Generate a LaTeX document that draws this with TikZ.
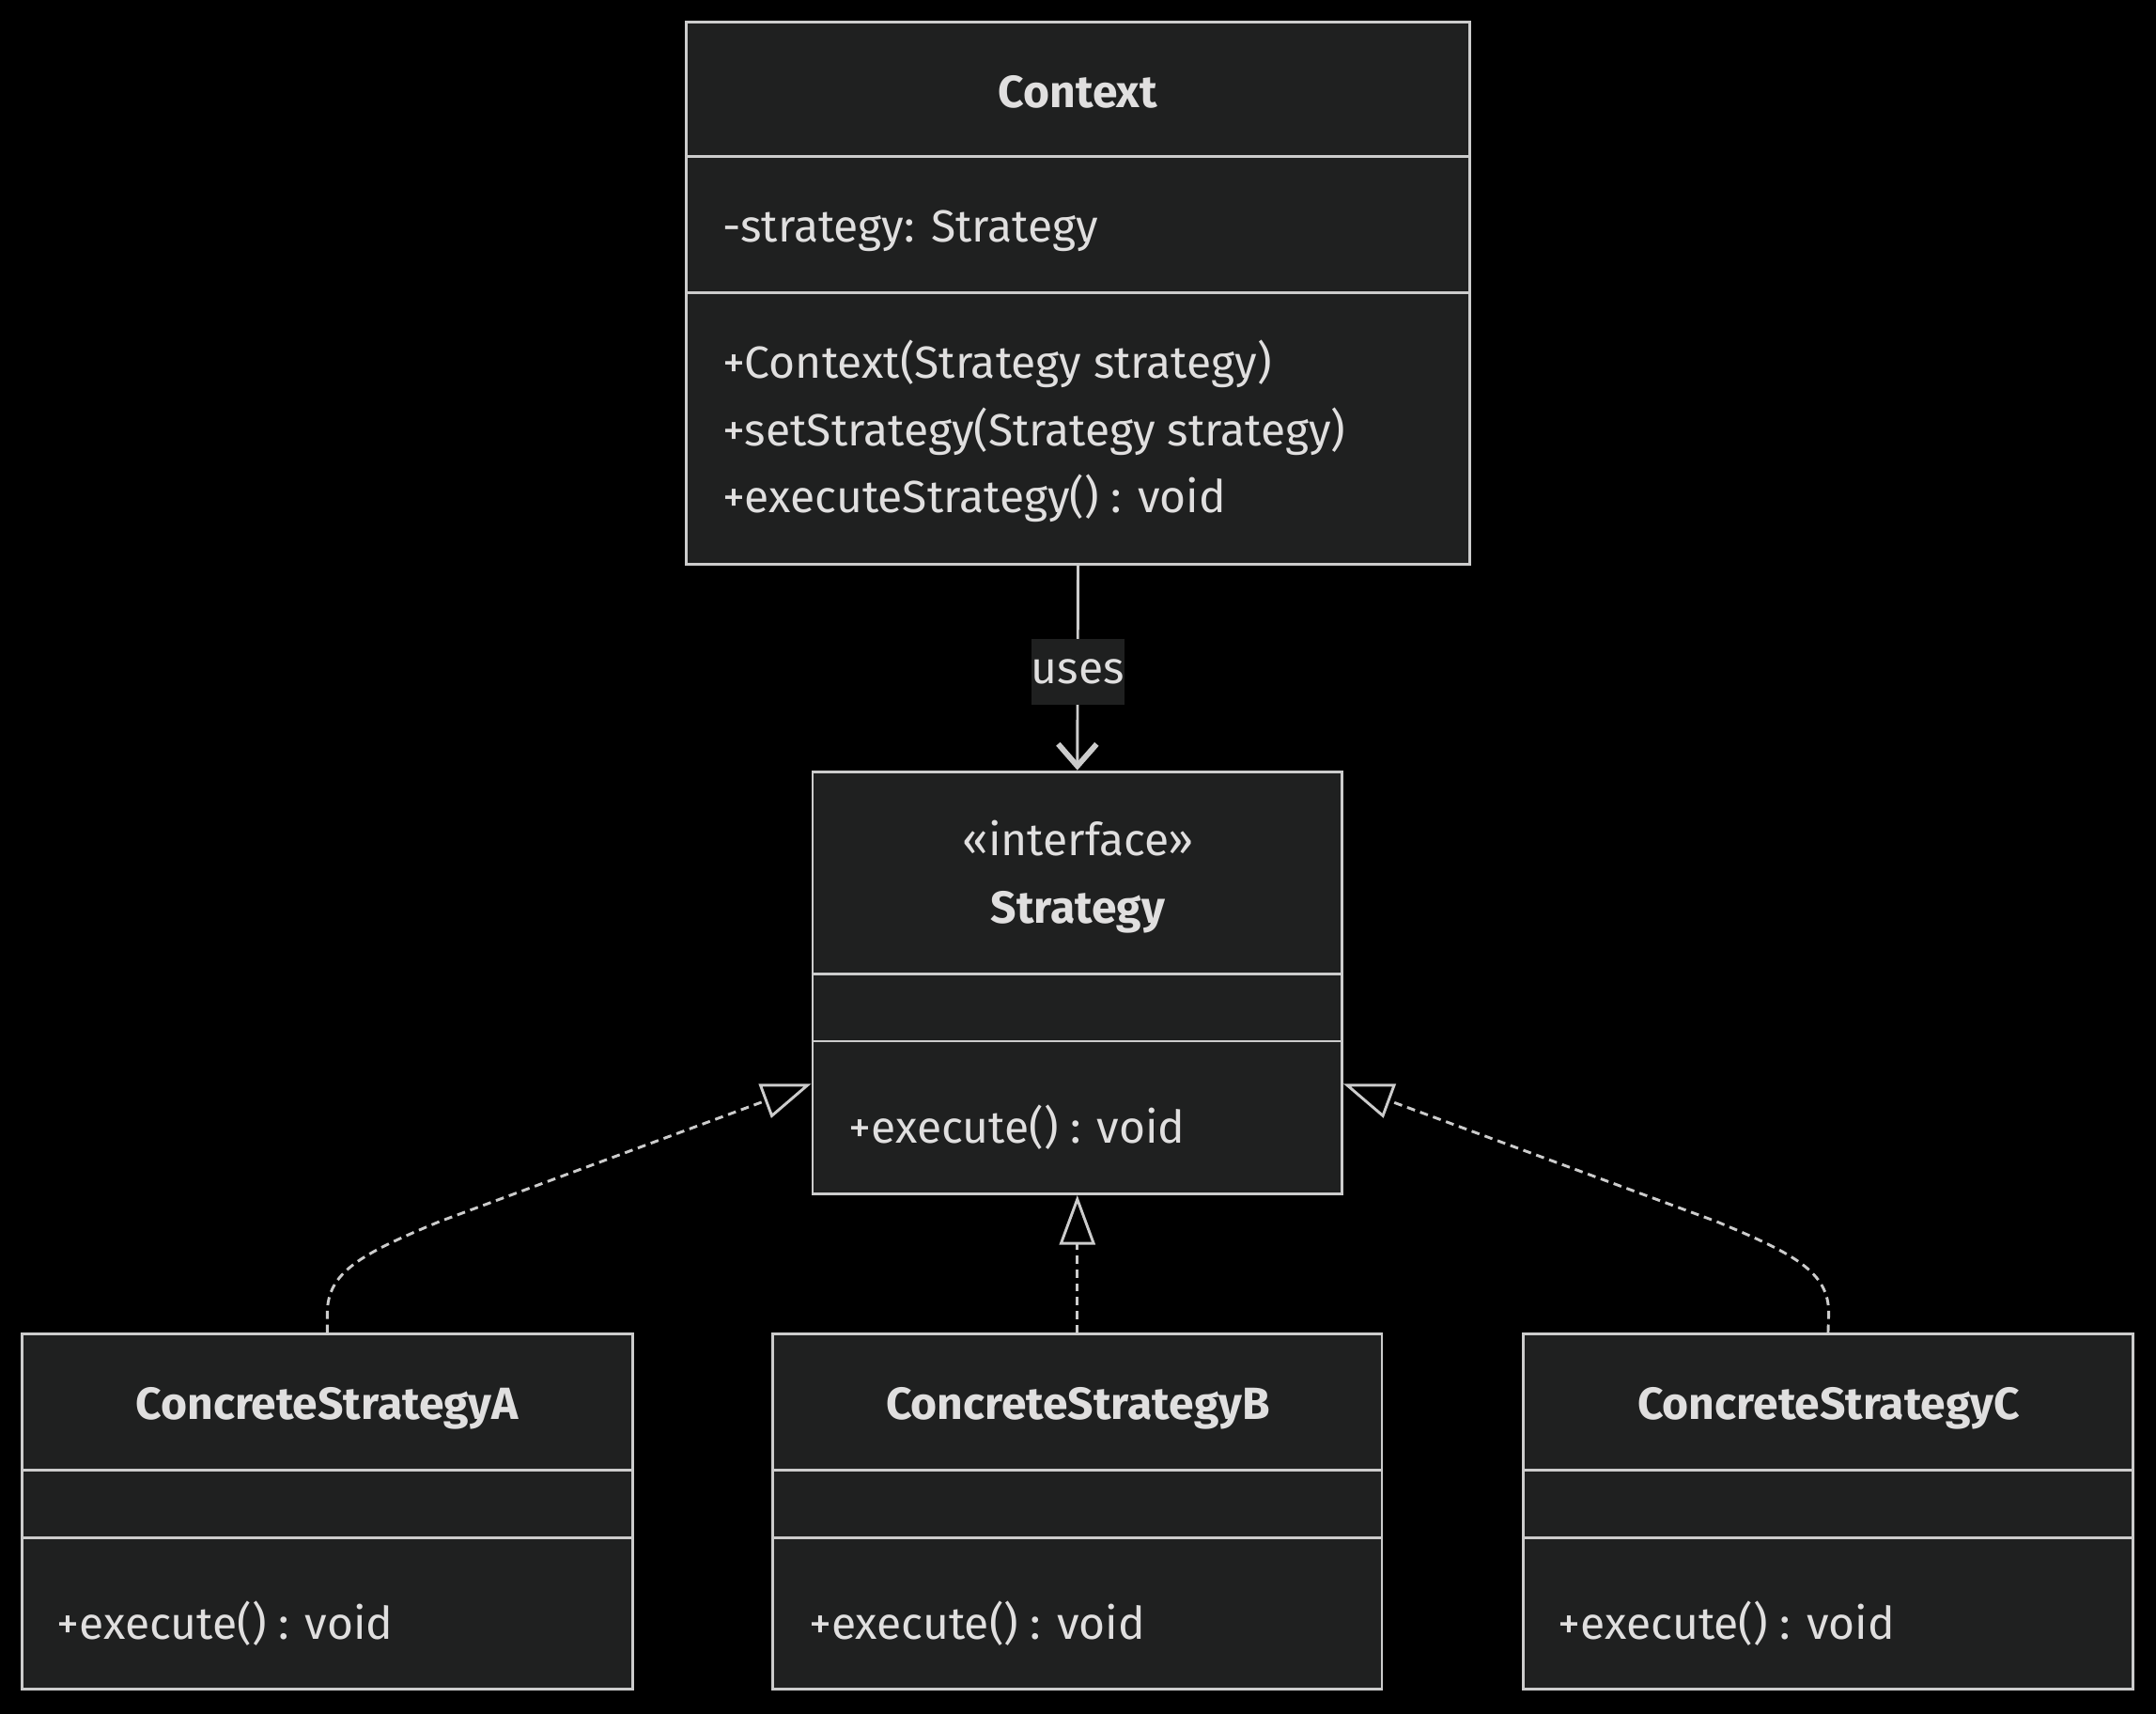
\documentclass[tikz,border=0pt]{standalone}
\usepackage{fontspec}
\setmainfont{Fira Sans}
\usetikzlibrary{arrows.meta,calc}
\definecolor{boxfill}{HTML}{1F2020}
\definecolor{edge}{HTML}{CCCCCC}
\definecolor{txt}{HTML}{E0DFDF}
\begin{document}
\begin{tikzpicture}[x=0.5pt,y=-0.5pt,
  umlbox/.style={draw=edge, fill=boxfill, line width=1pt, rectangle, inner sep=0pt},
  umltitle/.style={text=txt, font=\bfseries\fontsize{16.4}{19}\selectfont, inner sep=0pt, anchor=base},
  umlstereo/.style={text=txt, font=\fontsize{16.4}{19}\selectfont, inner sep=0pt, anchor=base},
  member/.style={text=txt, font=\fontsize{16.4}{19}\selectfont, inner sep=0pt, anchor=base west},
  divider/.style={draw=edge, line width=1pt},
  realize/.style={draw=edge, line width=1pt, dash pattern=on 3pt off 2pt, -{Triangle[open, length=18pt, width=13pt]}},
  usesarrow/.style={draw=edge, line width=1pt, -{Straight Barb[length=8pt, width=14pt, line width=2pt]}},
  edgelabel/.style={fill=boxfill, text=txt, font=\fontsize{16.4}{19}\selectfont, inner xsep=0pt, minimum width=31pt, minimum height=24pt}]
\fill[black] (0,0) rectangle (1568,1246);
\useasboundingbox (0,0) rectangle (1568,1246);

% Context
\node[umlbox, minimum width=285pt, minimum height=197pt] (ctx) at (784,213) {};
\draw[divider] (ctx.west |- 0,114) -- (ctx.east |- 0,114);
\draw[divider] (ctx.west |- 0,213) -- (ctx.east |- 0,213);
\node[umltitle] (ctxt) at (784,78) {Context};
\node[member] (ctxa) at (525,176) {-strategy: Strategy};
\node[member] (ctxm1) at (525,275) {+Context(Strategy strategy)};
\node[member] (ctxm2) at (525,324) {+setStrategy(Strategy strategy)};
\node[member] (ctxm3) at (525,373) {+executeStrategy() : void};

% Strategy
\node[umlbox, minimum width=192.5pt, minimum height=153.5pt] (strat) at (783.5,714.5) {};
\draw[divider] (strat.west |- 0,708) -- (strat.east |- 0,708);
\draw[divider] (strat.west |- 0,757) -- (strat.east |- 0,757);
\node[umlstereo] (strats) at (784,622) {«interface»};
\node[umltitle] (stratt) at (784,671) {Strategy};
\node[member] (stratm) at (617,831) {+execute() : void};

% Concrete strategies
\node[umlbox, minimum width=222pt, minimum height=129pt] (csa) at (238,1099) {};
\draw[divider] (csa.west |- 0,1069) -- (csa.east |- 0,1069);
\draw[divider] (csa.west |- 0,1118) -- (csa.east |- 0,1118);
\node[umltitle] (csat) at (238,1032) {ConcreteStrategyA};
\node[member] (csam) at (41,1192) {+execute() : void};

\node[umlbox, minimum width=221.5pt, minimum height=129pt] (csb) at (783.5,1099) {};
\draw[divider] (csb.west |- 0,1069) -- (csb.east |- 0,1069);
\draw[divider] (csb.west |- 0,1118) -- (csb.east |- 0,1118);
\node[umltitle] (csbt) at (784,1032) {ConcreteStrategyB};
\node[member] (csbm) at (588,1192) {+execute() : void};

\node[umlbox, minimum width=221.5pt, minimum height=129pt] (csc) at (1329.5,1099) {};
\draw[divider] (csc.west |- 0,1069) -- (csc.east |- 0,1069);
\draw[divider] (csc.west |- 0,1118) -- (csc.east |- 0,1118);
\node[umltitle] (csct) at (1330,1032) {ConcreteStrategyC};
\node[member] (cscm) at (1133,1192) {+execute() : void};

% Connectors
\draw[usesarrow] (ctx.south) -- node[edgelabel, yshift=-1.5pt] (usesl) {uses} (strat.north);

\coordinate (aTip) at ([yshift=40.5pt]strat.south west);
\coordinate (cTip) at ([yshift=40.5pt]strat.south east);
\draw[realize] (csa.north) -- (238,955) .. controls (238,925) and (262,912) .. (320,888) -- (aTip);
\draw[realize] (csc.north) -- (1330,955) .. controls (1330,925) and (1306,912) .. (1248,888) -- (cTip);
\draw[realize] (csb.north) -- (strat.south);
\end{tikzpicture}
\end{document}
